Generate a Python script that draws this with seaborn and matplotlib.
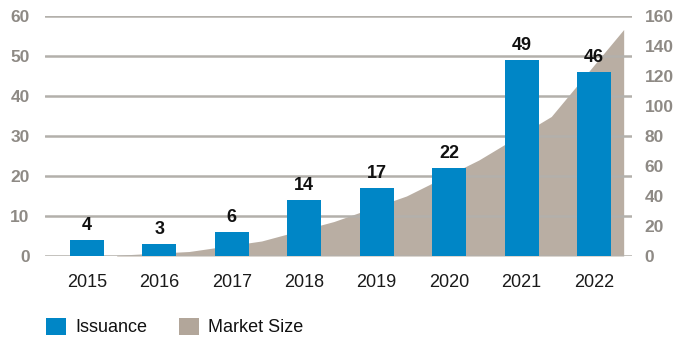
import matplotlib
matplotlib.use("Agg")
import matplotlib.pyplot as plt
from matplotlib.patches import Patch
import numpy as np
import pandas as pd
import seaborn as sns

years = ["2015", "2016", "2017", "2018", "2019", "2020", "2021", "2022"]
issuance = [4, 3, 6, 14, 17, 22, 49, 46]
market_size = [0.5, 3, 10, 23, 40, 64, 93, 151]
left_ticks = [0, 10, 20, 30, 40, 50, 60]
right_ticks = [0, 20, 40, 60, 80, 100, 120, 140, 160]

BLUE = "#0086C6"
TAUPE = "#B9AEA3"
GRID = "#B3B0AB"
TICK_GREY = "#8E8A85"

sns.set_theme(style="white")
plt.rcParams["font.family"] = ["Liberation Sans", "DejaVu Sans"]

fig = plt.figure(figsize=(6.81, 3.38), dpi=100)
ax = fig.add_axes([45 / 681, 1 - 256 / 338, (632 - 45) / 681, (256 - 16) / 338])
ax2 = ax.twinx()

# market size area sits behind the bars, offset toward the year end
x_idx = np.arange(len(years))
area_x = x_idx + 0.41
ax2.fill_between(area_x, 0, market_size, color=TAUPE, linewidth=0, zorder=1)
ax2.set_ylim(0, 160)
ax2.set_yticks(right_ticks)
ax2.set_yticklabels([str(t) for t in right_ticks])

# issuance bars
df = pd.DataFrame({"year": years, "issuance": issuance})
sns.barplot(data=df, x="year", y="issuance", order=years, color=BLUE,
            width=0.47, saturation=1, linewidth=0, edgecolor="none", ax=ax, zorder=3)
ax.set_ylim(0, 60)
ax.set_yticks(left_ticks)
ax.set_xlim(-0.58, 7.525)
ax2.set_xlim(-0.58, 7.525)
ax.set_xlabel("")
ax.set_ylabel("")

for i, v in enumerate(issuance):
    ax.annotate(str(v), (i, v), xytext=(0, 4), textcoords="offset points",
                ha="center", va="bottom", fontsize=13, fontweight="bold",
                color="#111111", zorder=5)

ax.yaxis.grid(True, color=GRID, linewidth=1.8, zorder=0.5)
ax.xaxis.grid(False)
ax.set_axisbelow(True)
ax.set_zorder(ax2.get_zorder() + 1)
ax.patch.set_visible(False)

for a in (ax, ax2):
    for s in a.spines.values():
        s.set_visible(False)

ax.tick_params(axis="x", length=0, pad=13, labelsize=13, labelcolor="#1a1a1a")
ax.tick_params(axis="y", length=0, pad=11, labelsize=12.5, labelcolor=TICK_GREY)
ax2.tick_params(axis="y", length=0, pad=9, labelsize=12.5, labelcolor=TICK_GREY)
for lbl in ax.get_yticklabels() + ax2.get_yticklabels():
    lbl.set_fontweight("bold")

handles = [Patch(facecolor=BLUE, edgecolor="none", label="Issuance"),
           Patch(facecolor="#B2A69A", edgecolor="none", label="Market Size")]
fig.legend(handles=handles, loc="center left", bbox_to_anchor=(46 / 681, 1 - 327 / 338),
           ncol=2, frameon=False, fontsize=13, handlelength=1.1, handleheight=1.1,
           handletextpad=0.5, columnspacing=1.8, borderpad=0, borderaxespad=0,
           labelcolor="#111111")

fig.savefig("out.png", dpi=100)
